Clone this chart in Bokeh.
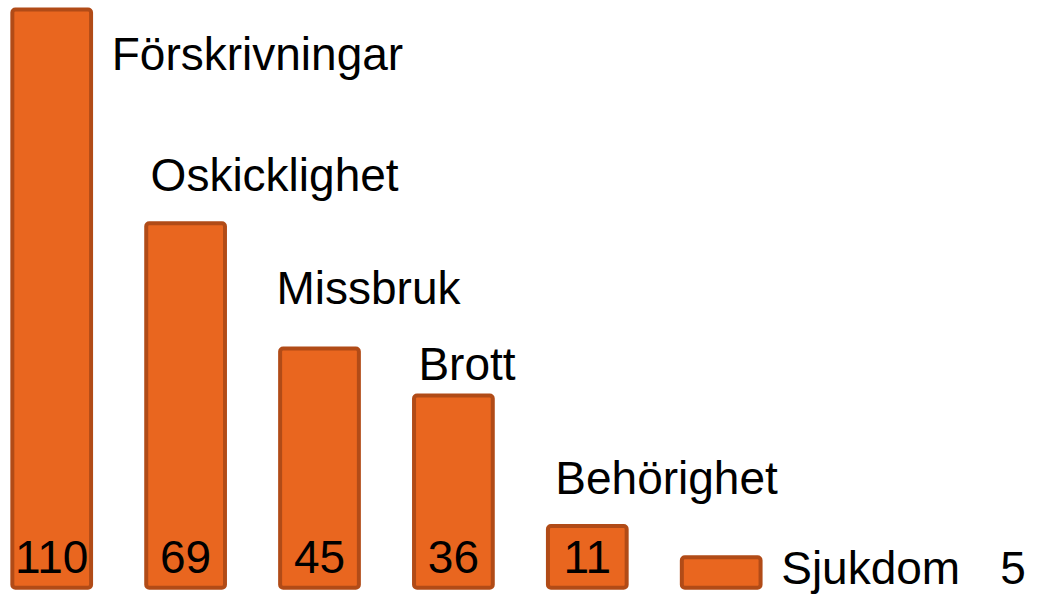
from bokeh.plotting import figure
from bokeh.models import ColumnDataSource, Range1d
from bokeh.core.properties import value
from bokeh.embed import file_html
from bokeh.resources import INLINE

# ---- data ----
categories = ["Förskrivningar", "Oskicklighet", "Missbruk", "Brott", "Behörighet", "Sjukdom"]
counts = [110, 69, 45, 36, 11, 5]

# ---- layout (pixel offsets of the texts, not data) ----
label_dx = [60, -35, -43, -35, -32, 60]
label_dy = [45, -48, -61, -32, -48, 11]
value_dx = [0, 0, 0, 0, 0, 279]
value_dy = [-26, -26, -26, -26, -26, -15]
value_align = ["center", "center", "center", "center", "center", "left"]
BASE = -0.84

idx = list(range(len(categories)))
src = ColumnDataSource(dict(
    x=idx, top=counts, cat=categories, val=[str(c) for c in counts],
    ldx=label_dx, ldy=label_dy, vdx=value_dx, vdy=value_dy, valign=value_align,
    zero=[0] * len(counts),
))

p = figure(width=1028, height=597, output_backend="svg", toolbar_location=None,
           x_axis_type=None, y_axis_type=None, min_border=0,
           x_range=Range1d(-0.3824, 7.295), y_range=Range1d(-2.70, 111.71))
p.outline_line_color = None
p.xgrid.visible = False
p.ygrid.visible = False
p.background_fill_color = "white"

p.vbar(x="x", top="top", bottom=BASE, width=0.588, source=src,
       fill_color="#E9661F", line_color="#B14B17", line_width=4, border_radius=3)

font = value("Liberation Sans")
p.text(x="x", y="top", text="cat", x_offset="ldx", y_offset="ldy", source=src,
       text_font=font, text_font_size="46px", text_color="black",
       text_align="left", text_baseline="alphabetic")
p.text(x="x", y="zero", text="val", x_offset="vdx", y_offset="vdy", source=src,
       text_font=font, text_font_size="46px", text_color="black",
       text_align="valign", text_baseline="alphabetic")

open("out.html", "w").write(file_html(p, INLINE))
